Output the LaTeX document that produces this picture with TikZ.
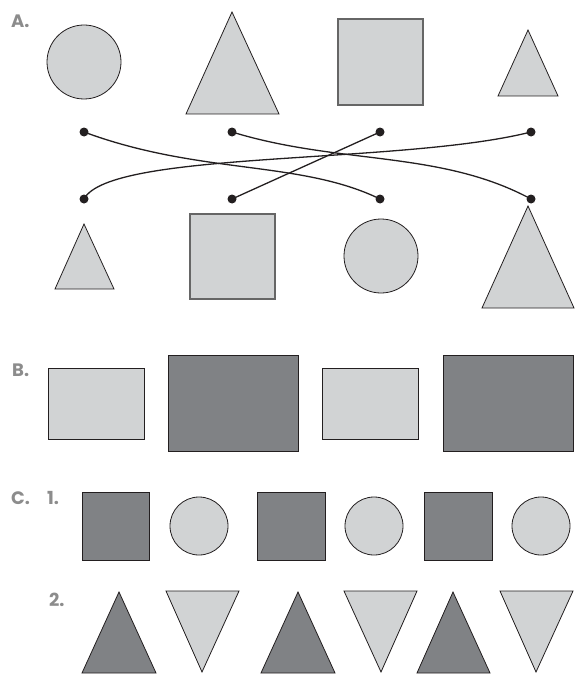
\documentclass[tikz,border=0pt]{standalone}
\usepackage{fontspec}
\setmainfont{Poppins}
\usetikzlibrary{positioning}
\definecolor{shapelight}{HTML}{D1D3D4}
\definecolor{shapedark}{HTML}{808285}
\definecolor{labgray}{HTML}{8C8C8C}
\definecolor{edge}{HTML}{231F20}

\begin{document}
\begin{tikzpicture}[
  x=1pt, y=-1pt,
  light/.style={fill=shapelight, draw=edge, line width=0.8pt},
  dark/.style={fill=shapedark, draw=edge, line width=0.8pt},
  boxedge/.style={draw=black!60, line width=1.2pt},
  dot/.style={circle, fill=edge, inner sep=0pt, minimum size=9pt},
  link/.style={draw=edge, line width=1.3pt},
  lab/.style={font=\bfseries\fontsize{18}{18}\selectfont, text=labgray, anchor=west, inner sep=0pt}
]
\useasboundingbox (0,0) rectangle (585,682);

% A: shapes above the dots
\node[lab] (labA) at (11,21) {A.};
\draw[light] (84,62) circle (37);
\draw[light] (232,12) -- (279,114) -- (186,114) -- cycle;
\draw[light, boxedge] (338,19) rectangle (423,105);
\draw[light] (528,30) -- (558,96) -- (498,96) -- cycle;

% A: dots
\node[dot] (top1) at (84,132) {};
\node[dot] (top2) at (232,132) {};
\node[dot] (top3) at (380,132) {};
\node[dot] (top4) at (531,132) {};
\node[dot] (bot1) at (84,199) {};
\node[dot] (bot2) at (232,199) {};
\node[dot] (bot3) at (380,199) {};
\node[dot] (bot4) at (531,199) {};

% A: matching lines
\draw[link] (top1.center) .. controls (200,175) and (300,160) .. (bot3.center);
\draw[link] (top2.center) .. controls (340,165) and (440,150) .. (bot4.center);
\draw[link] (top3.center) -- (bot2.center);
\draw[link] (bot1.center) .. controls (110,150) and (400,165) .. (top4.center);

% A: shapes below the dots
\draw[light] (84,224) -- (114,289) -- (55,289) -- cycle;
\draw[light, boxedge] (190,214) rectangle (275,299);
\draw[light] (381,256) circle (37);
\draw[light] (528,206) -- (574,308) -- (482,308) -- cycle;

% B
\node[lab] (labB) at (12,370) {B.};
\draw[light] (48,368) rectangle (144,439);
\draw[dark] (168,355) rectangle (298,451);
\draw[light] (322,368) rectangle (418,439);
\draw[dark] (443,355) rectangle (573,451);

% C, row 1
\node[lab] (labC) at (11,498) {C.};
\node[lab] (labC1) at (47,498) {1.};
\draw[dark] (82,492) rectangle (149,560);
\draw[light] (199,526) circle (29);
\draw[dark] (257,492) rectangle (325,560);
\draw[light] (374,526) circle (29);
\draw[dark] (424,492) rectangle (492,560);
\draw[light] (541,526) circle (29);

% C, row 2
\node[lab] (labC2) at (49,600) {2.};
\draw[dark] (119,592) -- (156,673) -- (82,673) -- cycle;
\draw[light] (166,591) -- (239,591) -- (202,672) -- cycle;
\draw[dark] (298,592) -- (335,673) -- (261,673) -- cycle;
\draw[light] (344,591) -- (417,591) -- (381,672) -- cycle;
\draw[dark] (453,592) -- (490,673) -- (417,673) -- cycle;
\draw[light] (500,591) -- (573,591) -- (536,672) -- cycle;
\end{tikzpicture}
\end{document}
